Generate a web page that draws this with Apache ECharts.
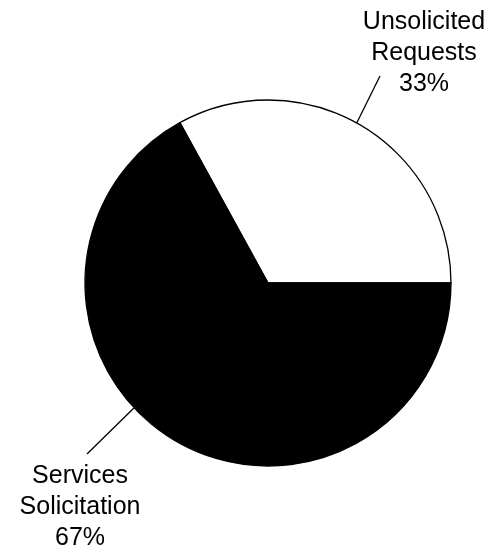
<!DOCTYPE html>
<html><head><meta charset="utf-8">
<script src="https://cdn.jsdelivr.net/npm/echarts@6/dist/echarts.min.js"></script>
<style>html,body{margin:0;padding:0;background:#fff}#c{width:491px;height:552px}</style>
</head><body><div id="c"></div>
<script>
// Data
const categories = ['Unsolicited\nRequests', 'Services\nSolicitation'];
const values = [33, 67];
const sliceColors = ['#ffffff', '#000000'];

// Layout (pixels)
const CX = 268, CY = 283, R = 183;
const labelPos = [[424, 7], [80, 461]];          // label box centre-x / top
const lineAngles = [61, 223];                    // degrees, ccw from 3 o'clock, where leader starts on rim
const lineEnds = [[380, 76], [87, 454]];

function rim(deg) {
  const a = deg * Math.PI / 180;
  return [CX + R * Math.cos(a), CY - R * Math.sin(a)];
}

const chart = echarts.init(document.getElementById('c'), null, {renderer: 'canvas'});
chart.setOption({
  backgroundColor: '#fff',
  animation: false,
  series: [{
    type: 'pie',
    center: [CX, CY],
    radius: [0, R],
    startAngle: 0,
    clockwise: false,
    avoidLabelOverlap: false,
    data: categories.map((c, i) => ({
      name: c, value: values[i],
      itemStyle: {color: sliceColors[i], borderColor: '#000', borderWidth: 1.3}
    })),
    label: {
      show: true,
      position: 'outside',
      formatter: '{b}\n{d}%',
      fontFamily: 'Liberation Sans, Arial, sans-serif',
      fontSize: 25,
      lineHeight: 31,
      color: '#000',
      align: 'center'
    },
    labelLine: {show: true, lineStyle: {color: '#000', width: 1.3}, length: 10, length2: 10},
    labelLayout: function (p) {
      const i = p.dataIndex;
      const s = rim(lineAngles[i]);
      const e = lineEnds[i];
      return {
        x: labelPos[i][0], y: labelPos[i][1],
        align: 'center', verticalAlign: 'top',
        labelLinePoints: [s, e, e]
      };
    },
    emphasis: {disabled: true}
  }]
});
</script>
</body></html>
